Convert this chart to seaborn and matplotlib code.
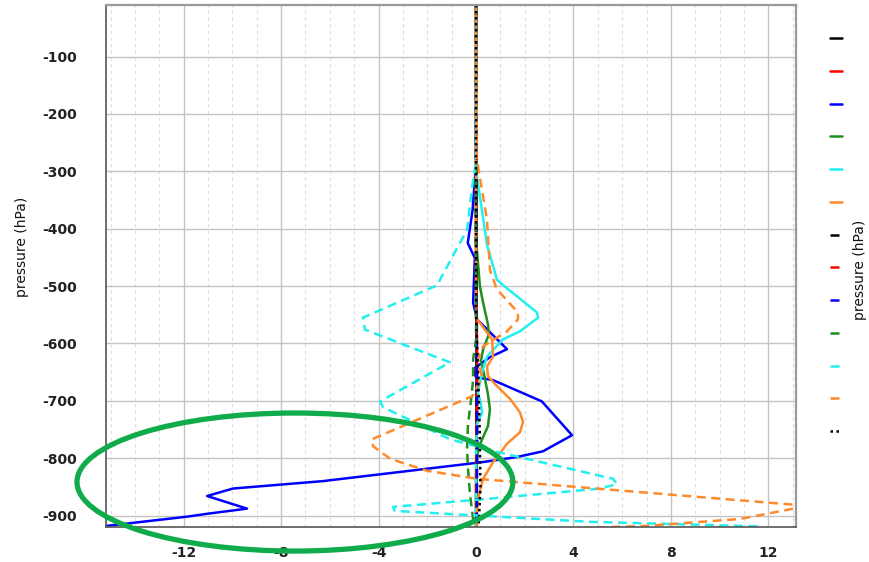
import matplotlib
matplotlib.use("Agg")
import matplotlib.pyplot as plt
from matplotlib.patches import Ellipse
from matplotlib.ticker import MultipleLocator
import seaborn as sns
import pandas as pd

sns.set_theme(style="white")
plt.rcParams["font.family"] = ["DejaVu Sans"]
plt.rcParams["axes.unicode_minus"] = False

# ---- vertical profiles (value, pressure in hPa as negative numbers) ----
black_solid_x = [0.0, 0.0, 0.0, 0.0, 0.0]
black_solid_p = [-10, -300, -600, -800, -925]

red_solid_x = [0.0, 0.0, 0.03, 0.05, 0.03, 0.0, 0.0]
red_solid_p = [-10, -450, -550, -650, -750, -850, -925]

blue_solid_x = [0.0, 0.0, -0.14, -0.34, -0.05, -0.12, 0.04, 1.27, 0.57, -0.12, 0.0,
                0.7, 2.7, 3.94, 2.75, 1.68, 0.25, -6.28, -9.98, -11.04, -9.4,
                -11.04, -11.86, -15.15]
blue_solid_p = [-10, -286, -367, -425, -451, -529, -558, -610, -624, -645, -659,
                -664, -701, -760, -788, -798, -807, -840, -853, -866, -888,
                -897, -902, -918]

green_solid_x = [0.0, 0.0, 0.16, 0.29, 0.49, 0.53, 0.29, 0.2, 0.33, 0.49, 0.57,
                 0.49, 0.2, 0.08, 0.0, 0.0]
green_solid_p = [-10, -419, -501, -529, -567, -584, -610, -631, -654, -689, -715,
                 -744, -772, -784, -820, -925]

cyan_solid_x = [0.0, 0.0, 0.45, 0.86, 1.1, 2.5, 2.55, 1.8, 1.1, 0.45, 0.25, 0.08,
                0.2, 0.25, 0.04, 0.0, 0.0]
cyan_solid_p = [-10, -298, -428, -489, -498, -546, -555, -579, -593, -623, -650,
                -685, -706, -720, -741, -780, -925]

orange_solid_x = [0.0, 0.0, 0.66, 0.7, 0.45, 0.49, 0.78, 1.4, 1.8, 1.93, 1.8,
                  1.27, 0.7, 0.29, 0.08, 0.0]
orange_solid_p = [-10, -555, -593, -623, -640, -657, -671, -697, -720, -737, -755,
                  -775, -807, -836, -871, -925]

black_dash_x = [0.0, 0.0, 0.0, 0.0, 0.0]
black_dash_p = [-10, -300, -600, -800, -925]

red_dash_x = [0.0, 0.0, 0.02, 0.04, 0.02, 0.0]
red_dash_p = [-10, -500, -600, -700, -800, -925]

blue_dash_x = [0.0, 0.0, 0.03, 0.05, 0.04, 0.02]
blue_dash_p = [-10, -500, -650, -750, -850, -925]

green_dash_x = [0.0, 0.0, -0.12, -0.12, -0.2, -0.33, -0.37, -0.33, -0.25, -0.16, -0.08]
green_dash_p = [-10, -593, -628, -663, -697, -741, -784, -819, -862, -893, -918]

cyan_dash_x = [0.0, 0.0, -0.16, -0.37, -1.48, -1.56, -4.64, -4.56, -1.07, -3.94,
               -3.82, -1.07, 0.86, 5.62, 5.79, 5.09, 0.45, -3.41, -3.33, 0.04,
               4.68, 11.66]
cyan_dash_p = [-10, -281, -327, -402, -489, -498, -555, -576, -633, -701,
               -711, -767, -789, -836, -845, -853, -871, -885, -892, -900,
               -911, -919]

orange_dash_x = [0.0, 0.04, 0.45, 0.57, 0.86, 1.72, 1.72, 1.27, 0.29, 0.08, 0.25,
                 -0.16, -4.27, -4.23, -3.53, -2.01, 0.04, 13.0, 13.4, 10.84, 7.02,
                 3.45, 2.2]
orange_dash_p = [-10, -281, -385, -472, -506, -546, -558, -579, -605, -628, -659,
                 -692, -767, -779, -801, -822, -836, -881, -885, -906, -918,
                 -923, -925]

black_dot_x = [0.0, 0.0, 0.08, 0.15, 0.18, 0.1]
black_dot_p = [-10, -550, -650, -750, -850, -925]

BLACK, RED, BLUE = "#000000", "#ff0000", "#0000ff"
GREEN, CYAN, ORANGE = "#1f8f1f", "#22f0f0", "#ff8a2a"

series = [
    (black_solid_x, black_solid_p, BLACK, "-"),
    (red_solid_x, red_solid_p, RED, "-"),
    (blue_solid_x, blue_solid_p, BLUE, "-"),
    (green_solid_x, green_solid_p, GREEN, "-"),
    (cyan_solid_x, cyan_solid_p, CYAN, "-"),
    (orange_solid_x, orange_solid_p, ORANGE, "-"),
    (black_dash_x, black_dash_p, BLACK, "--"),
    (red_dash_x, red_dash_p, RED, "--"),
    (blue_dash_x, blue_dash_p, BLUE, "--"),
    (green_dash_x, green_dash_p, GREEN, "--"),
    (cyan_dash_x, cyan_dash_p, CYAN, "--"),
    (orange_dash_x, orange_dash_p, ORANGE, "--"),
    (black_dot_x, black_dot_p, BLACK, ":"),
]

fig = plt.figure(figsize=(8.70, 5.62), dpi=100)
ax = fig.add_axes([0.1215, 0.0623, 0.7931, 0.9288])

handles = []
for i, (xs, ps, col, ls) in enumerate(series):
    df = pd.DataFrame({"value": xs, "pressure": ps})
    sns.lineplot(data=df, x="value", y="pressure", sort=False, estimator=None,
                 color=col, linewidth=1.8, ax=ax, label=f"s{i}")
    line = ax.get_lines()[-1]
    line.set_linestyle(ls)
    if ls == "--":
        line.set_dashes((3.6, 2.2))
    elif ls == ":":
        line.set_dashes((1, 1.4))
    handles.append(line)

ax.set_xlim(-15.2, 13.12)
ax.set_ylim(-920, -10)

ax.xaxis.set_major_locator(MultipleLocator(4))
ax.xaxis.set_minor_locator(MultipleLocator(1))
ax.yaxis.set_major_locator(MultipleLocator(100))
ax.grid(which="major", color="#c4c4c4", linewidth=1.0, linestyle="-")
ax.grid(which="minor", axis="x", color="#dddddd", linewidth=0.8, linestyle=(0, (3, 3)))
ax.set_axisbelow(True)

ax.tick_params(axis="both", which="major", direction="in", length=4, width=0.8,
               colors="#888888", labelcolor="#222222", labelsize=10)
ax.tick_params(axis="x", which="major", pad=14)
ax.tick_params(axis="y", which="major", pad=21)
ax.tick_params(which="minor", length=0)

ax.set_yticks([-100, -200, -300, -400, -500, -600, -700, -800, -900])
ax.set_xticks([-12, -8, -4, 0, 4, 8, 12])
for lab in ax.get_xticklabels() + ax.get_yticklabels():
    lab.set_fontweight("bold")

ax.set_xlabel("")
ax.set_ylabel("")
for side in ["top", "right"]:
    ax.spines[side].set_color("#9a9a9a")
    ax.spines[side].set_linewidth(1.6)
for side in ["left", "bottom"]:
    ax.spines[side].set_color("#555555")
    ax.spines[side].set_linewidth(1.2)

fig.text(0.025, 0.56, "pressure (hPa)", rotation=90, ha="center", va="center",
         fontsize=10, color="#111111")
fig.text(0.989, 0.52, "pressure (hPa)", rotation=90, ha="center", va="center",
         fontsize=10, color="#111111")

leg = ax.legend(handles, [" "] * len(handles), loc="upper left",
                bbox_to_anchor=(0.954, 0.943), bbox_transform=fig.transFigure,
                frameon=False, handlelength=0.9, handletextpad=0.0,
                labelspacing=1.35, borderpad=0, borderaxespad=0, fontsize=10)

# highlight around the low-level blue excursion
fig.add_artist(Ellipse((0.339, 0.1423), 0.501, 0.2456, transform=fig.transFigure,
                       fill=False, edgecolor="#10ac4c", linewidth=3.8, zorder=10))

fig.savefig("out.png", dpi=100)
